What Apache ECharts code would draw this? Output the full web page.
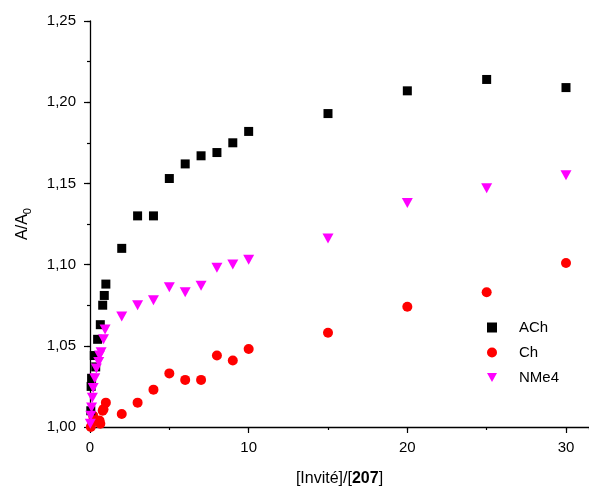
<!DOCTYPE html>
<html>
<head>
<meta charset="utf-8">
<script src="https://cdn.jsdelivr.net/npm/echarts@6/dist/echarts.min.js"></script>
<style>html,body{margin:0;padding:0;background:#fff}#c{width:589px;height:492px}</style>
</head>
<body>
<div id="c"></div>
<script>
const seriesNames = ['ACh', 'Ch', 'NMe4'];
const achX = [0.05, 0.07, 0.1, 0.27, 0.36, 0.48, 0.65, 0.8, 0.9, 1, 2, 3, 4, 5, 6, 7, 8, 9, 10, 15, 20, 25, 30];
const achY = [1.010, 1.025, 1.030, 1.044, 1.037, 1.054, 1.063, 1.075, 1.081, 1.088, 1.110, 1.130, 1.130, 1.153, 1.162, 1.167, 1.169, 1.175, 1.182, 1.193, 1.207, 1.214, 1.209];
const chX = [0.05, 0.15, 0.2, 0.6, 0.65, 0.8, 0.85, 1, 2, 3, 4, 5, 6, 7, 8, 9, 10, 15, 20, 25, 30];
const chY = [1.000, 1.003, 1.007, 1.004, 1.002, 1.010, 1.011, 1.015, 1.008, 1.015, 1.023, 1.033, 1.029, 1.029, 1.044, 1.041, 1.048, 1.058, 1.074, 1.083, 1.101];
const nmeX = [0.02, 0.05, 0.1, 0.15, 0.2, 0.3, 0.4, 0.55, 0.6, 0.7, 0.85, 0.95, 2, 3, 4, 5, 6, 7, 8, 9, 10, 15, 20, 25, 30];
const nmeY = [1.002, 1.007, 1.012, 1.018, 1.024, 1.030, 1.036, 1.040, 1.044, 1.046, 1.054, 1.060, 1.068, 1.075, 1.078, 1.086, 1.083, 1.087, 1.098, 1.100, 1.103, 1.116, 1.138, 1.147, 1.155];
const xTicks = [0, 10, 20, 30];
const yTicks = ['1,00', '1,05', '1,10', '1,15', '1,20', '1,25'];

const pair = (xs, ys) => xs.map((x, i) => [x, ys[i]]);
const font = 'Liberation Sans, Arial, sans-serif';
const X_MAX = 31.45;
const chart = echarts.init(document.getElementById('c'));
chart.setOption({
  animation: false,
  grid: { left: 90, right: 0, top: 21, bottom: 62, containLabel: false },
  xAxis: [{
    type: 'value', min: 0, max: X_MAX, interval: 10,
    name: '{a|[Invité]/[}{b|207}{a|]}', nameLocation: 'middle', nameGap: 44,
    nameTextStyle: { rich: {
      a: { fontFamily: font, fontSize: 16, color: '#000' },
      b: { fontFamily: font, fontSize: 16, fontWeight: 'bold', color: '#000' } } },
    axisLine: { lineStyle: { color: '#000', width: 1.3 } },
    axisTick: { inside: false, length: 6, lineStyle: { color: '#000', width: 1.2 } },
    splitLine: { show: false },
    axisLabel: { fontFamily: font, fontSize: 15, color: '#000', margin: 13, showMaxLabel: false,
      formatter: v => (xTicks.includes(v) ? String(v) : '') }
  }, {
    type: 'value', min: 0, max: X_MAX, interval: 5, position: 'bottom',
    axisLine: { show: false }, axisLabel: { show: false }, splitLine: { show: false },
    axisTick: { show: true, inside: false, length: 3, lineStyle: { color: '#000', width: 1.2 } }
  }],
  yAxis: [{
    type: 'value', min: 1.0, max: 1.25, interval: 0.05,
    name: '{a|A/A}{s|0}', nameLocation: 'middle', nameGap: 57, nameRotate: 90,
    nameTextStyle: { rich: {
      a: { fontFamily: font, fontSize: 16, color: '#000' },
      s: { fontFamily: font, fontSize: 11, color: '#000', padding: [9, 0, 0, 0] } } },
    axisLine: { show: true, lineStyle: { color: '#000', width: 1.3 } },
    axisTick: { show: true, inside: false, length: 6, lineStyle: { color: '#000', width: 1.2 } },
    splitLine: { show: false },
    axisLabel: { fontFamily: font, fontSize: 15, color: '#000', margin: 14,
      formatter: v => yTicks[Math.round((v - 1) / 0.05)] }
  }, {
    type: 'value', min: 1.0, max: 1.25, interval: 0.025, position: 'left',
    axisLine: { show: false }, axisLabel: { show: false }, splitLine: { show: false },
    axisTick: { show: true, inside: false, length: 3, lineStyle: { color: '#000', width: 1.2 } }
  }],
  legend: {
    orient: 'vertical', left: 482, top: 315, itemWidth: 10, itemHeight: 10, itemGap: 10,
    textStyle: { fontFamily: font, fontSize: 15, color: '#000', padding: [0, 0, 0, 17] },
    data: seriesNames
  },
  series: [
    { name: seriesNames[0], type: 'scatter', symbol: 'rect', symbolSize: 9,
      itemStyle: { color: '#000000', opacity: 1 }, data: pair(achX, achY), z: 3 },
    { name: seriesNames[1], type: 'scatter', symbol: 'circle', symbolSize: 10,
      itemStyle: { color: '#ff0000', opacity: 1 }, data: pair(chX, chY), z: 2 },
    { name: seriesNames[2], type: 'scatter', symbol: 'path://M0,0 L10,0 L5,9 Z', symbolSize: [11, 10],
      itemStyle: { color: '#ff00ff', opacity: 1 }, data: pair(nmeX, nmeY), z: 4 }
  ]
});
</script>
</body>
</html>
